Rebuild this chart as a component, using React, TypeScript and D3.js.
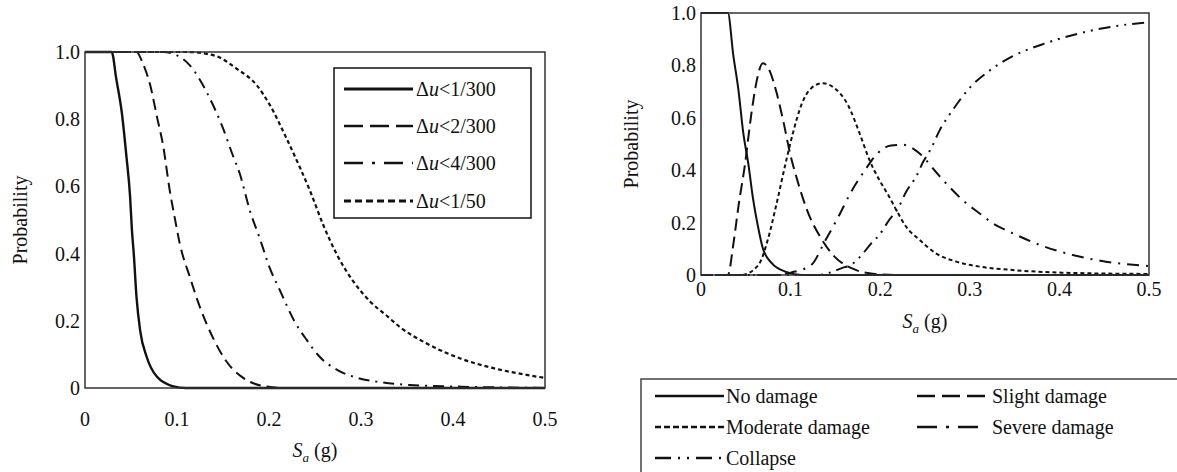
import React from 'react';
import * as d3 from 'd3';

// axis ticks shared by both panels
const xTicks = [0, 0.1, 0.2, 0.3, 0.4, 0.5];
const xTickLabels = ['0', '0.1', '0.2', '0.3', '0.4', '0.5'];
const yTicks = [0, 0.2, 0.4, 0.6, 0.8, 1.0];
const yTickLabels = ['0', '0.2', '0.4', '0.6', '0.8', '1.0'];

// left panel: probability of drift below limit, [Sa, P]
const drift1of300 = [[0, 1], [0.029, 1], [0.034, 0.92], [0.040, 0.82], [0.045, 0.69], [0.049, 0.57], [0.051, 0.47], [0.053, 0.40], [0.056, 0.27], [0.060, 0.17], [0.067, 0.093], [0.078, 0.034], [0.096, 0.005], [0.11, 0], [0.5, 0]];
const drift2of300 = [[0, 1], [0.056, 1], [0.063, 0.965], [0.071, 0.9], [0.078, 0.81], [0.085, 0.72], [0.092, 0.59], [0.098, 0.5], [0.103, 0.43], [0.114, 0.33], [0.125, 0.24], [0.139, 0.15], [0.154, 0.078], [0.172, 0.03], [0.194, 0.006], [0.22, 0], [0.5, 0]];
const drift4of300 = [[0, 1], [0.085, 1], [0.1, 0.99], [0.114, 0.96], [0.136, 0.86], [0.149, 0.78], [0.161, 0.69], [0.168, 0.64], [0.179, 0.53], [0.190, 0.445], [0.201, 0.356], [0.212, 0.29], [0.228, 0.197], [0.241, 0.143], [0.255, 0.093], [0.274, 0.054], [0.295, 0.031], [0.317, 0.019], [0.353, 0.009], [0.408, 0.004], [0.5, 0]];
const drift1of50 = [[0, 1], [0.11, 1], [0.14, 0.99], [0.165, 0.95], [0.187, 0.9], [0.201, 0.842], [0.219, 0.743], [0.234, 0.654], [0.245, 0.584], [0.259, 0.485], [0.274, 0.396], [0.292, 0.316], [0.31, 0.257], [0.328, 0.215], [0.342, 0.182], [0.371, 0.133], [0.408, 0.088], [0.444, 0.059], [0.48, 0.039], [0.5, 0.03]];

// right panel: damage state probabilities, [Sa, P]
const noDamage = [[0, 1], [0.030, 1], [0.036, 0.84], [0.042, 0.70], [0.047, 0.547], [0.053, 0.42], [0.058, 0.293], [0.064, 0.178], [0.069, 0.102], [0.079, 0.045], [0.094, 0.013], [0.112, 0], [0.5, 0]];
const slightDamage = [[0, 0], [0.030, 0], [0.036, 0.115], [0.042, 0.267], [0.049, 0.42], [0.056, 0.61], [0.062, 0.738], [0.069, 0.808], [0.077, 0.776], [0.084, 0.70], [0.092, 0.585], [0.099, 0.47], [0.108, 0.356], [0.119, 0.242], [0.134, 0.14], [0.149, 0.07], [0.168, 0.026], [0.194, 0.004], [0.22, 0], [0.5, 0]];
const moderateDamage = [[0, 0], [0.045, 0], [0.064, 0.038], [0.075, 0.14], [0.084, 0.267], [0.094, 0.42], [0.103, 0.547], [0.112, 0.649], [0.123, 0.713], [0.136, 0.732], [0.149, 0.713], [0.164, 0.649], [0.177, 0.541], [0.188, 0.439], [0.199, 0.363], [0.210, 0.299], [0.218, 0.248], [0.229, 0.184], [0.244, 0.134], [0.262, 0.083], [0.285, 0.051], [0.311, 0.032], [0.348, 0.019], [0.403, 0.009], [0.5, 0.004]];
const severeDamage = [[0, 0], [0.08, 0], [0.101, 0.01], [0.123, 0.038], [0.138, 0.127], [0.153, 0.22], [0.168, 0.32], [0.183, 0.40], [0.197, 0.464], [0.212, 0.494], [0.225, 0.497], [0.244, 0.464], [0.262, 0.394], [0.277, 0.337], [0.292, 0.286], [0.311, 0.235], [0.329, 0.19], [0.340, 0.172], [0.378, 0.115], [0.415, 0.076], [0.452, 0.051], [0.5, 0.034]];
const collapse = [[0, 0], [0.13, 0], [0.157, 0.026], [0.170, 0.045], [0.181, 0.083], [0.190, 0.121], [0.199, 0.153], [0.210, 0.21], [0.220, 0.255], [0.229, 0.318], [0.240, 0.375], [0.248, 0.432], [0.257, 0.484], [0.266, 0.55], [0.281, 0.63], [0.30, 0.715], [0.322, 0.78], [0.348, 0.835], [0.385, 0.885], [0.422, 0.922], [0.459, 0.948], [0.5, 0.965]];

const ink = '#111';

type Series = { data: number[][]; dash: string; legendDash: string; width: number };

const leftSeries: (Series & { limit: string })[] = [
  { data: drift1of300, dash: '', legendDash: '', width: 2.4, limit: '<1/300' },
  { data: drift2of300, dash: '11,6', legendDash: '19,7', width: 2, limit: '<2/300' },
  { data: drift4of300, dash: '11,6,2,6', legendDash: '19,9,3,9', width: 2, limit: '<4/300' },
  { data: drift1of50, dash: '4,3', legendDash: '7,4', width: 2.2, limit: '<1/50' },
];

const rightSeries: (Series & { name: string })[] = [
  { data: noDamage, dash: '', legendDash: '', width: 2, name: 'No damage' },
  { data: slightDamage, dash: '12,6', legendDash: '18,7', width: 2, name: 'Slight damage' },
  { data: moderateDamage, dash: '4,3', legendDash: '6,3', width: 2, name: 'Moderate damage' },
  { data: severeDamage, dash: '12,7,2,7', legendDash: '20,9,3,9', width: 2, name: 'Severe damage' },
  { data: collapse, dash: '12,6,2,6,2,6', legendDash: '16,7,2,7,2,7', width: 2, name: 'Collapse' },
];

const txt = { fontFamily: 'Liberation Serif', fontSize: 20, fill: ink };

function Panel({ left, right, top, bottom, series, ylabelX, xlabelY, tickY, children }: any) {
  const x = d3.scaleLinear().domain([0, 0.5]).range([left, right]);
  const y = d3.scaleLinear().domain([0, 1]).range([bottom, top]);
  const line = d3.line<number[]>().x(d => x(d[0])).y(d => y(d[1])).curve(d3.curveMonotoneX);
  const midX = (left + right) / 2;
  const midY = (top + bottom) / 2;
  return (
    <g>
      {series.map((s: Series, i: number) => (
        <path key={i} d={line(s.data) || ''} fill="none" stroke={ink} strokeWidth={s.width}
          strokeDasharray={s.dash || undefined} />
      ))}
      <rect x={left} y={top} width={right - left} height={bottom - top} fill="none" stroke="#333" strokeWidth={1.5} />
      {yTicks.map((t, i) => (
        <text key={'y' + i} x={left - 5} y={y(t) + 7} textAnchor="end" style={txt}>{yTickLabels[i]}</text>
      ))}
      {xTicks.map((t, i) => (
        <text key={'x' + i} x={x(t)} y={tickY} textAnchor="middle" style={txt}>{xTickLabels[i]}</text>
      ))}
      <text transform={`translate(${ylabelX},${midY}) rotate(-90)`} textAnchor="middle" style={txt}>Probability</text>
      <text x={midX} y={xlabelY} textAnchor="middle" style={txt}>
        <tspan fontStyle="italic">S</tspan><tspan fontStyle="italic" fontSize={13} dy={5}>a</tspan><tspan dy={-5}> (g)</tspan>
      </text>
      {children}
    </g>
  );
}

export default function App() {
  const leftRows = [89, 126, 163, 201];
  return (
    <svg width={1177} height={472} style={{ position: 'absolute', left: 0, top: 0, background: '#fff' }}>
      <Panel left={85} right={545} top={52} bottom={388} series={leftSeries} ylabelX={27} xlabelY={457} tickY={426}>
        <rect x={334} y={68} width={197} height={150} fill="#fff" stroke={ink} strokeWidth={1.5} />
        {leftSeries.map((s, i) => (
          <g key={i}>
            <line x1={344} x2={413} y1={leftRows[i]} y2={leftRows[i]} stroke={ink} strokeWidth={s.width + 0.6}
              strokeDasharray={s.legendDash || undefined} />
            <text x={416} y={leftRows[i] + 7} style={txt}>
              Δ<tspan fontStyle="italic">u</tspan>{s.limit}
            </text>
          </g>
        ))}
      </Panel>
      <Panel left={701} right={1149} top={13} bottom={275} series={rightSeries} ylabelX={638} xlabelY={328} tickY={296}>
        <rect x={641} y={379} width={560} height={120} fill="#fff" stroke="#444" strokeWidth={1.5} />
        {rightSeries.map((s, i) => {
          const col = i % 2;
          const row = Math.floor(i / 2);
          const ry = [396, 427, 458][row];
          const lx = col === 0 ? 655 : 917;
          const tx = col === 0 ? 726 : 992;
          return (
            <g key={i}>
              <line x1={lx} x2={lx + 69} y1={ry} y2={ry} stroke={ink} strokeWidth={2.4}
                strokeDasharray={s.legendDash || undefined} />
              <text x={tx} y={ry + 7} style={txt}>{s.name}</text>
            </g>
          );
        })}
      </Panel>
    </svg>
  );
}
